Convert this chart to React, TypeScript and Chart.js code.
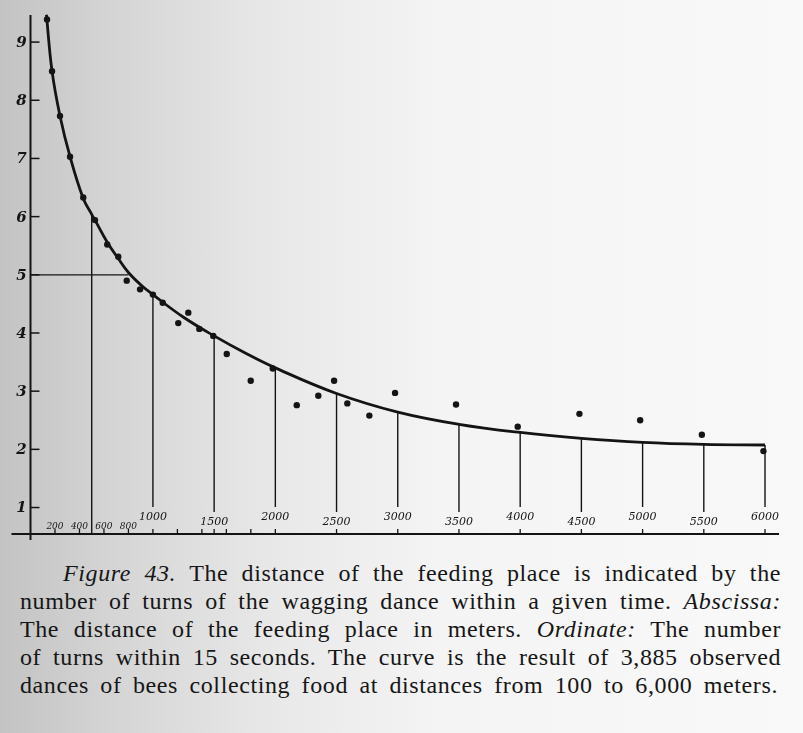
import React, { useEffect, useRef } from "react";
import { Chart, registerables } from "chart.js";

Chart.register(...registerables);

// Smooth fitted curve (distance in m -> turns per 15 s)
const curveDistances = [130, 176, 241, 323, 431, 500, 527, 627, 717, 800, 900, 1000, 1250, 1500, 1750, 2000, 2500, 3000, 3500, 4000, 4500, 5000, 5500, 6000];
const curveTurns = [9.47, 8.5, 7.73, 7.03, 6.31, 6.04, 5.94, 5.56, 5.28, 5.04, 4.83, 4.66, 4.27, 3.95, 3.66, 3.4, 2.96, 2.64, 2.43, 2.29, 2.19, 2.12, 2.085, 2.075];

// Observed points
const dotDistances = [135, 176, 241, 323, 431, 527, 627, 717, 786, 895, 1000, 1080, 1207, 1289, 1379, 1493, 1603, 1799, 1979, 2175, 2351, 2480, 2588, 2768, 2978, 3476, 3980, 4484, 4980, 5484, 5987];
const dotTurns = [9.39, 8.5, 7.73, 7.03, 6.33, 5.94, 5.52, 5.31, 4.9, 4.75, 4.66, 4.52, 4.17, 4.35, 4.07, 3.95, 3.64, 3.18, 3.39, 2.76, 2.92, 3.18, 2.79, 2.58, 2.97, 2.77, 2.39, 2.61, 2.5, 2.25, 1.97];

// Vertical drop lines from the curve
const dropDistances = [500, 1000, 1500, 2000, 2500, 3000, 3500, 4000, 4500, 5000, 5500, 6000];

// Horizontal guide line
const guideDistance = 800;
const guideTurns = 5;

// Axis ticks
const yTickValues = [1, 2, 3, 4, 5, 6, 7, 8, 9];
const yTickLabels = ["1", "2", "3", "4", "5", "6", "7", "8", "9"];
const xTickValues = [200, 400, 600, 800, 1000, 1200, 1400, 1500, 1600, 1800, 2000, 2500, 3000, 3500, 4000, 4500, 5000, 5500, 6000];
const xLabelValues = [200, 400, 600, 800, 1000, 1500, 2000, 2500, 3000, 3500, 4000, 4500, 5000, 5500, 6000];
const xLabelTexts = ["200", "400", "600", "800", "1000", "1500", "2000", "2500", "3000", "3500", "4000", "4500", "5000", "5500", "6000"];

const captionLines = [
  [["i", "Figure 43."], ["n", " The distance of the feeding place is indicated by the"]],
  [["n", "number of turns of the wagging dance within a given time. "], ["i", "Abscissa:"]],
  [["n", "The distance of the feeding place in meters. "], ["i", "Ordinate:"], ["n", " The number"]],
  [["n", "of turns within 15 seconds. The curve is the result of 3,885 observed"]],
  [["n", "dances of bees collecting food at distances from 100 to 6,000 meters."]],
];

const INK = "#141414";
const SERIF = "'Liberation Serif', 'Times New Roman', Tinos, Times, 'DejaVu Serif', serif";
const LABEL_FONT = "'DejaVu Serif', 'Liberation Serif', serif";

function labelLift(v: number): number {
  if (v < 1000) return 7;
  if (v % 1000 === 0) return 17;
  return 12;
}

const axesPlugin = {
  id: "bookAxes",
  afterDatasetsDraw(chart: any) {
    const ctx = chart.ctx as CanvasRenderingContext2D;
    const xs = chart.scales.x;
    const ys = chart.scales.y;
    const x0 = xs.getPixelForValue(0);
    const axisY = chart.chartArea.bottom;
    const curveMeta = chart.getDatasetMeta(0);

    ctx.save();
    ctx.strokeStyle = INK;
    ctx.fillStyle = INK;
    ctx.lineCap = "butt";

    // drop lines
    ctx.lineWidth = 1.4;
    dropDistances.forEach((d) => {
      const idx = curveDistances.indexOf(d);
      const pt = curveMeta.data[idx];
      const px = xs.getPixelForValue(d);
      const labelIdx = xLabelValues.indexOf(d);
      const endY = labelIdx >= 0 ? axisY - labelLift(d) - 10 : axisY;
      ctx.beginPath();
      ctx.moveTo(px, pt.y);
      ctx.lineTo(px, endY);
      ctx.stroke();
    });

    // horizontal guide
    const gIdx = curveDistances.indexOf(guideDistance);
    const gy = ys.getPixelForValue(guideTurns);
    ctx.lineWidth = 1.2;
    ctx.beginPath();
    ctx.moveTo(x0, gy);
    ctx.lineTo(curveMeta.data[gIdx].x, gy);
    ctx.stroke();

    // y axis
    ctx.lineWidth = 2;
    ctx.beginPath();
    ctx.moveTo(x0, chart.chartArea.top + 2);
    ctx.lineTo(x0, axisY + 6);
    ctx.stroke();

    // x axis
    ctx.beginPath();
    ctx.moveTo(x0 - 19, axisY);
    ctx.lineTo(xs.getPixelForValue(6000) + 14, axisY);
    ctx.stroke();

    // y ticks + labels
    ctx.lineWidth = 1.5;
    ctx.font = "italic bold 15px " + LABEL_FONT;
    ctx.textAlign = "center";
    ctx.textBaseline = "middle";
    yTickValues.forEach((v, i) => {
      const py = ys.getPixelForValue(v);
      ctx.beginPath();
      ctx.moveTo(x0, py);
      ctx.lineTo(x0 + 9, py);
      ctx.stroke();
      ctx.fillText(yTickLabels[i], x0 - 9, py + 1);
    });

    // x ticks
    ctx.lineWidth = 1.3;
    xTickValues.forEach((v) => {
      const px = xs.getPixelForValue(v);
      ctx.beginPath();
      ctx.moveTo(px, axisY);
      ctx.lineTo(px, axisY - 5);
      ctx.stroke();
    });

    // x labels
    xLabelValues.forEach((v, i) => {
      const px = xs.getPixelForValue(v);
      ctx.font = v < 1000 ? "italic 9px " + LABEL_FONT : "italic 11px " + LABEL_FONT;
      ctx.fillText(xLabelTexts[i], px, axisY - labelLift(v));
    });

    ctx.restore();
  },
};

function BeeChart() {
  const ref = useRef<HTMLCanvasElement | null>(null);
  useEffect(() => {
    if (!ref.current) return;
    const chart = new Chart(ref.current, {
      type: "scatter",
      data: {
        datasets: [
          {
            data: curveDistances.map((d, i) => ({ x: d, y: curveTurns[i] })),
            showLine: true,
            borderColor: INK,
            borderWidth: 2.8,
            pointRadius: 0,
            tension: 0.4,
            order: 2,
          } as any,
          {
            data: dotDistances.map((d, i) => ({ x: d, y: dotTurns[i] })),
            showLine: false,
            pointRadius: 3.2,
            pointBackgroundColor: INK,
            pointBorderWidth: 0,
            order: 1,
          } as any,
        ],
      },
      options: {
        responsive: false,
        animation: false,
        events: [],
        layout: { padding: { left: 30.5, right: 13.5, top: 13, bottom: 16 } },
        scales: {
          x: { type: "linear", min: 0, max: 6200, display: false },
          y: { type: "linear", min: 0.545, max: 9.5, display: false },
        },
        plugins: { legend: { display: false }, tooltip: { enabled: false } },
      },
      plugins: [axesPlugin],
    });
    return () => chart.destroy();
  }, []);
  return <canvas ref={ref} width={803} height={550} style={{ position: "absolute", left: 0, top: 0, display: "block" }} />;
}

export default function App() {
  return (
    <div
      style={{
        position: "absolute",
        left: 0,
        top: 0,
        width: 803,
        height: 733,
        overflow: "hidden",
        background: "linear-gradient(to right, #c3c3c3 0%, #d6d6d6 15%, #e9e9e9 35%, #f4f4f4 55%, #f9f9f9 100%)",
      }}
    >
      <BeeChart />
      <div
        style={{
          position: "absolute",
          left: 20,
          top: 559,
          width: 761,
          fontFamily: SERIF,
          fontSize: 24,
          lineHeight: "28px",
          letterSpacing: "0.6px",
          color: "#161616",
        }}
      >
        {captionLines.map((line, li) => (
          <div
            key={li}
            style={{
              textAlign: "justify",
              textAlignLast: "justify",
              paddingLeft: li === 0 ? 43 : 0,
              paddingRight: li === 4 ? 3 : 0,
            }}
          >
            {line.map(([kind, txt], k) =>
              kind === "i" ? <i key={k}>{txt}</i> : <span key={k}>{txt}</span>
            )}
          </div>
        ))}
      </div>
    </div>
  );
}
